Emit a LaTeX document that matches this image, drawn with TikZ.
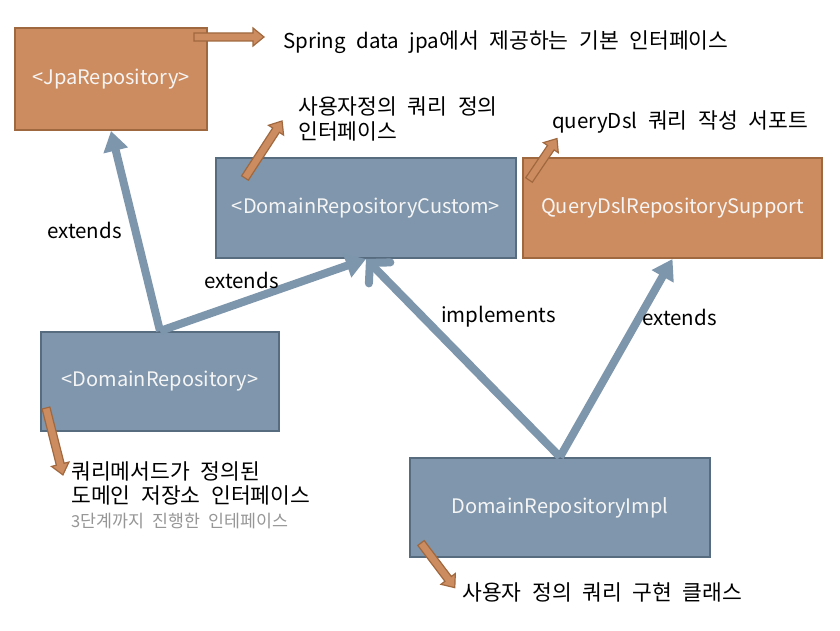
\documentclass[tikz,border=0pt]{standalone}
\usepackage{fontspec}
\setmainfont[WordSpace=2.3]{Noto Sans CJK KR}
\newfontfamily\hangulfont[Scale=1.05,WordSpace=2.2]{Noto Sans CJK KR}
\XeTeXinterchartokenstate=1
\newXeTeXintercharclass\HangulClass
\count255="AC00
\loop
  \XeTeXcharclass\count255=\HangulClass
  \ifnum\count255<"D7A3
  \advance\count255 by 1
\repeat
\XeTeXinterchartoks 0 \HangulClass = {\hangulfont}
\XeTeXinterchartoks 4095 \HangulClass = {\hangulfont}
\XeTeXinterchartoks \HangulClass 0 = {\rmfamily}
\usetikzlibrary{arrows.meta}
\definecolor{ofill}{RGB}{205,140,95}
\definecolor{odraw}{RGB}{160,104,63}
\definecolor{bfill}{RGB}{127,150,172}
\definecolor{bdraw}{RGB}{88,108,128}
\definecolor{conncol}{RGB}{125,150,172}
\definecolor{greytext}{RGB}{150,150,150}
\definecolor{boxtext}{RGB}{245,245,245}
\tikzset{
  orangebox/.style={draw=odraw, fill=ofill, line width=2pt, text=boxtext, font=\fontsize{20}{24}\selectfont, inner sep=0pt},
  bluebox/.style={draw=bdraw, fill=bfill, line width=2pt, text=boxtext, font=\fontsize{20}{24}\selectfont, inner sep=0pt},
  lbl/.style={anchor=west, inner sep=0pt, font=\fontsize{20.5}{24.5}\selectfont, align=left},
  graylbl/.style={anchor=west, inner sep=0pt, font=\fontsize{16.5}{19}\selectfont, text=greytext},
  conn/.style={draw=conncol, line width=8pt},
  filledhead/.style={-{Triangle[length=20pt,width=24pt]}},
  openhead/.style={-{Straight Barb[length=14pt,width=30pt,line cap=round]}},
  annot/.style={draw=odraw, fill=ofill, line width=1.2pt, line join=miter}
}
\newcommand\blockarr[3]{%
  \draw[annot, shift={#1}, rotate=#2] (0,-4) -- ({#3-11},-4) -- ({#3-11},-9) -- (#3,0) -- ({#3-11},9) -- ({#3-11},4) -- (0,4) -- cycle;}
\begin{document}
\begin{tikzpicture}[x=1pt, y=1pt]
\useasboundingbox (0,0) rectangle (840,630);
% boxes
\node[orangebox, minimum width=192pt, minimum height=102pt] (jpa) at (111,551) {<JpaRepository>};
\node[bluebox, minimum width=300pt, minimum height=100pt] (custom) at (366,422) {<DomainRepositoryCustom>};
\node[orangebox, minimum width=299pt, minimum height=100pt] (qds) at (672.5,422) {QueryDslRepositorySupport};
\node[bluebox, minimum width=238pt, minimum height=99pt] (repo) at (160,248.5) {<DomainRepository>};
\node[bluebox, minimum width=300pt, minimum height=99pt] (impl) at (560,122.5) {DomainRepositoryImpl};
% connectors
\draw[conn, filledhead] (repo.north) -- (jpa.south);
\draw[conn, filledhead] (repo.north) -- (custom.south);
\draw[conn, openhead] (impl.north) -- (custom.south);
\draw[conn, filledhead] (impl.north) -- (qds.south);
% connector labels
\node[lbl] (l1) at (47,400) {extends};
\node[lbl] (l2) at (204,350) {extends};
\node[lbl] (l3) at (441,313) {implements};
\node[lbl] (l4) at (642,313) {extends};
% annotation arrows
\blockarr{(194,593)}{0}{70}
\blockarr{(245,452)}{57}{68}
\blockarr{(529,450)}{56}{50}
\blockarr{(46,222)}{-75.8}{69}
\blockarr{(421,87)}{-52.9}{56}
% annotation texts
\node[lbl] (t1) at (283,588) {Spring data jpa에서 제공하는 기본 인터페이스};
\node[lbl] (t2) at (298,511) {사용자정의 쿼리 정의\\인터페이스};
\node[lbl] (t3) at (552,508) {queryDsl 쿼리 작성 서포트};
\node[lbl] (t4) at (71,146.5) {쿼리메서드가 정의된\\도메인 저장소 인터페이스};
\node[graylbl] (t5) at (71,109) {3단계까지 진행한 인테페이스};
\node[lbl] (t6) at (462,38) {사용자 정의 쿼리 구현 클래스};
\end{tikzpicture}
\end{document}
